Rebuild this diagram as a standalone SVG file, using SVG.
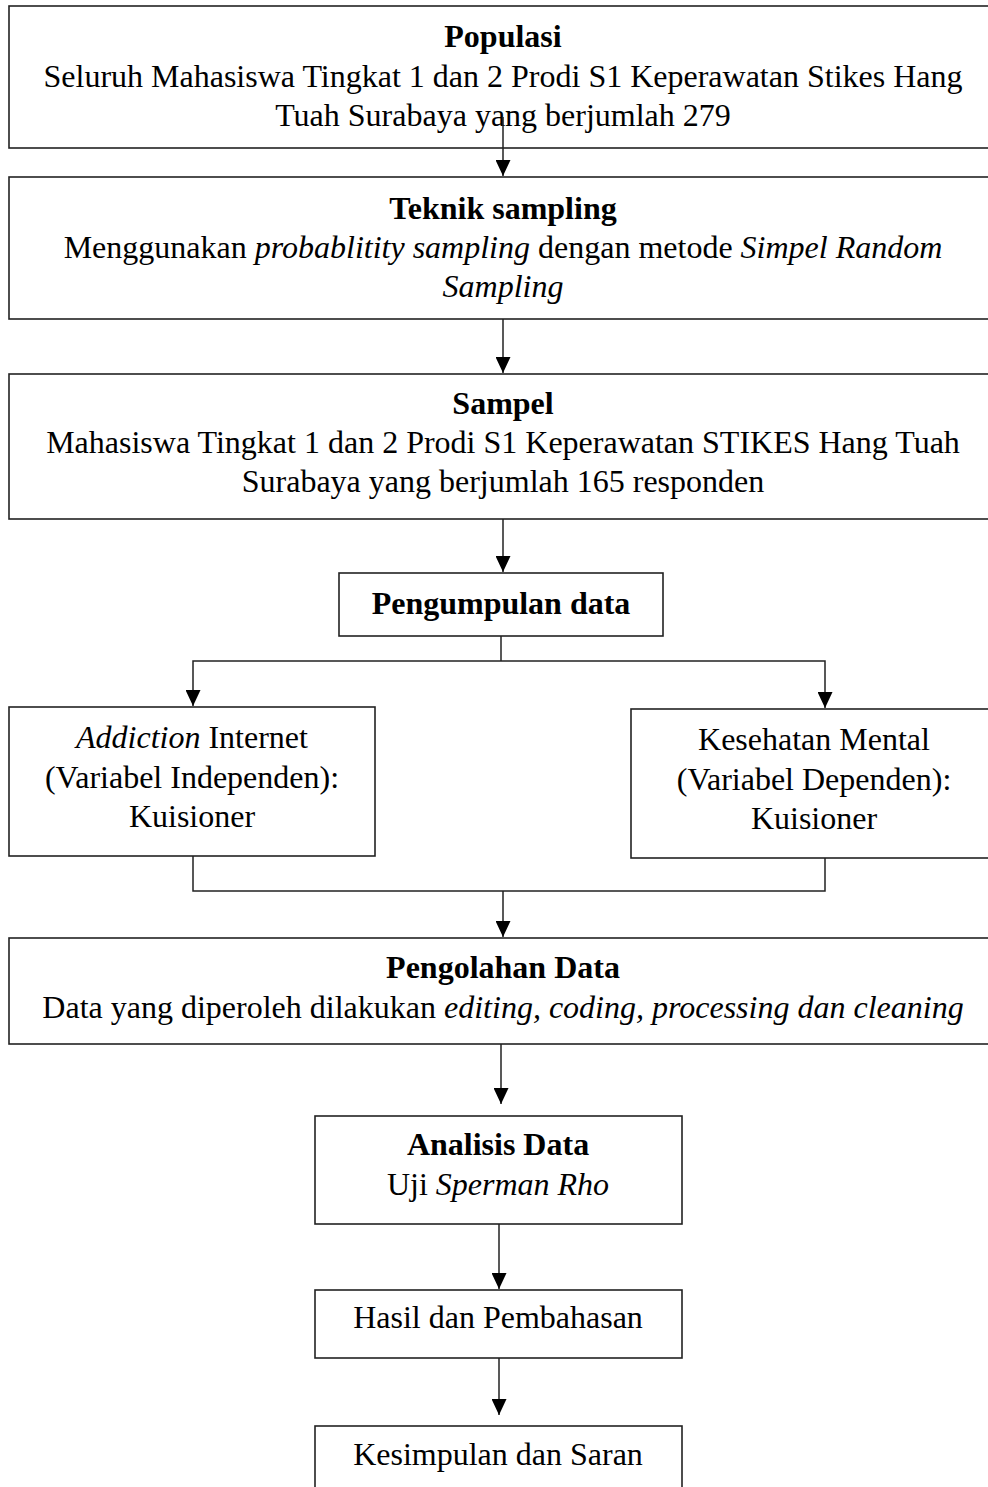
<svg xmlns="http://www.w3.org/2000/svg" width="988" height="1487" viewBox="0 0 988 1487">
<defs>
<style>
.box{fill:#fff;stroke:#222;stroke-width:1.6}
.t{font-family:"Liberation Serif","Times New Roman",serif;font-size:32px;fill:#000;text-anchor:middle}
.b{font-weight:bold}
.i{font-style:italic}
.ln{fill:none;stroke:#222;stroke-width:1.5}
</style>
<marker id="ah" markerUnits="userSpaceOnUse" viewBox="0 0 16 15" refX="16" refY="7.5" markerWidth="16" markerHeight="15" orient="auto">
<path d="M0,0 L16,7.5 L0,15 z" fill="#000"/>
</marker>
</defs>
<rect width="988" height="1487" fill="#fff"/>

<g id="populasi">
<rect class="box" x="9" y="6" width="992" height="142"/>
<text class="t b" x="503" y="47">Populasi</text>
<text class="t" x="503" y="87">Seluruh Mahasiswa Tingkat 1 dan 2 Prodi S1 Keperawatan Stikes Hang</text>
<text class="t" x="503" y="126">Tuah Surabaya yang berjumlah 279</text>
</g>

<g id="teknik">
<rect class="box" x="9" y="177" width="992" height="142"/>
<text class="t b" x="503" y="219">Teknik sampling</text>
<text class="t" x="503" y="258">Menggunakan <tspan class="i">probablitity sampling</tspan> dengan metode <tspan class="i">Simpel Random</tspan></text>
<text class="t i" x="503" y="297">Sampling</text>
</g>

<g id="sampel">
<rect class="box" x="9" y="374" width="992" height="145"/>
<text class="t b" x="503" y="414">Sampel</text>
<text class="t" x="503" y="453">Mahasiswa Tingkat 1 dan 2 Prodi S1 Keperawatan STIKES Hang Tuah</text>
<text class="t" x="503" y="492">Surabaya yang berjumlah 165 responden</text>
</g>

<g id="pengumpulan">
<rect class="box" x="339" y="573" width="324" height="63"/>
<text class="t b" x="501" y="614">Pengumpulan data</text>
</g>

<g id="addiction">
<rect class="box" x="9" y="707" width="366" height="149"/>
<text class="t" x="192" y="748"><tspan class="i">Addiction</tspan> Internet</text>
<text class="t" x="192" y="788">(Variabel Independen):</text>
<text class="t" x="192" y="827">Kuisioner</text>
</g>

<g id="kesehatan">
<rect class="box" x="631" y="709" width="370" height="149"/>
<text class="t" x="814" y="750">Kesehatan Mental</text>
<text class="t" x="814" y="790">(Variabel Dependen):</text>
<text class="t" x="814" y="829">Kuisioner</text>
</g>

<g id="pengolahan">
<rect class="box" x="9" y="938" width="992" height="106"/>
<text class="t b" x="503" y="978">Pengolahan Data</text>
<text class="t" x="503" y="1018">Data yang diperoleh dilakukan <tspan class="i">editing, coding, processing dan cleaning</tspan></text>
</g>

<g id="analisis">
<rect class="box" x="315" y="1116" width="367" height="108"/>
<text class="t b" x="498" y="1155">Analisis Data</text>
<text class="t" x="498" y="1195">Uji <tspan class="i">Sperman Rho</tspan></text>
</g>

<g id="hasil">
<rect class="box" x="315" y="1290" width="367" height="68"/>
<text class="t" x="498" y="1328">Hasil dan Pembahasan</text>
</g>

<g id="kesimpulan">
<rect class="box" x="315" y="1426" width="367" height="80"/>
<text class="t" x="498" y="1465">Kesimpulan dan Saran</text>
</g>

<g id="connectors">
<path class="ln" d="M503,117 V176" marker-end="url(#ah)"/>
<path class="ln" d="M503,319 V373" marker-end="url(#ah)"/>
<path class="ln" d="M503,519 V572" marker-end="url(#ah)"/>
<path class="ln" d="M501,636 V661"/>
<path class="ln" d="M501,661 H193 V706" marker-end="url(#ah)"/>
<path class="ln" d="M501,661 H825 V708" marker-end="url(#ah)"/>
<path class="ln" d="M193,856 V891 H825 V858"/>
<path class="ln" d="M503,891 V937" marker-end="url(#ah)"/>
<path class="ln" d="M501,1044 V1104" marker-end="url(#ah)"/>
<path class="ln" d="M499,1224 V1289" marker-end="url(#ah)"/>
<path class="ln" d="M499,1358 V1415" marker-end="url(#ah)"/>
</g>
</svg>
